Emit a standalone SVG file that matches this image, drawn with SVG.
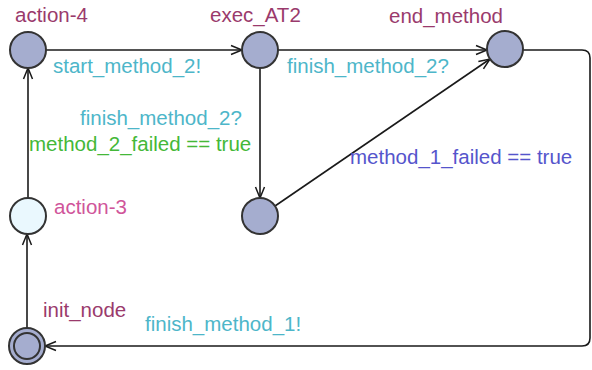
<svg xmlns="http://www.w3.org/2000/svg" width="592" height="370" viewBox="0 0 592 370">
<defs>
<marker id="arr" markerUnits="userSpaceOnUse" markerWidth="14" markerHeight="12" refX="12" refY="6" orient="auto">
<path d="M1,1.5 L12,6 L1,10.5" fill="none" stroke="#1a1a1a" stroke-width="1.5"/>
</marker>
<style>
.n{fill:#a5adcf;stroke:#333;stroke-width:2}
.nl{fill:#eaf8fe;stroke:#333;stroke-width:2}
.e{fill:none;stroke:#1a1a1a;stroke-width:1.6;marker-end:url(#arr)}
text{font-family:"Liberation Sans",Arial,sans-serif;font-size:20.5px}
.name{fill:#9a3a6c}
.name2{fill:#d0559a}
.sync{fill:#4db6c9}
.guard{fill:#44b838}
.guard2{fill:#5555cc}
</style>
</defs>
<g id="connectors">
<line class="e" x1="46" y1="50" x2="242" y2="50"/>
<line class="e" x1="278" y1="50" x2="487" y2="50"/>
<line class="e" x1="260" y1="68" x2="260" y2="198"/>
<line class="e" x1="275" y1="206" x2="490" y2="59"/>
<line class="e" x1="28" y1="198" x2="28" y2="68"/>
<line class="e" x1="27" y1="328" x2="27" y2="234"/>
<path class="e" d="M523,50 H582 Q590,50 590,58 V338 Q590,346 582,346 H45"/>
<text class="sync" x="53" y="73">start_method_2!</text>
<text class="sync" x="287" y="73">finish_method_2?</text>
<text class="sync" x="80" y="125">finish_method_2?</text>
<text class="guard" x="29" y="151">method_2_failed == true</text>
<text class="guard2" x="350" y="164">method_1_failed == true</text>
<text class="sync" x="145" y="331">finish_method_1!</text>
</g>
<g id="action-4"><circle class="n" cx="28" cy="50" r="18"/><text class="name" x="15" y="22">action-4</text></g>
<g id="exec_AT2"><circle class="n" cx="260" cy="50" r="18"/><text class="name" x="210" y="22">exec_AT2</text></g>
<g id="end_method"><circle class="n" cx="505" cy="49" r="18"/><text class="name" x="389" y="23">end_method</text></g>
<g id="action-3"><circle class="nl" cx="28" cy="216" r="18"/><text class="name2" x="54" y="214">action-3</text></g>
<g id="mid"><circle class="n" cx="260" cy="216" r="18"/></g>
<g id="init_node"><circle class="n" cx="27" cy="346" r="18"/><circle class="n" cx="27" cy="346" r="13"/><text class="name" x="43" y="317">init_node</text></g>
</svg>
